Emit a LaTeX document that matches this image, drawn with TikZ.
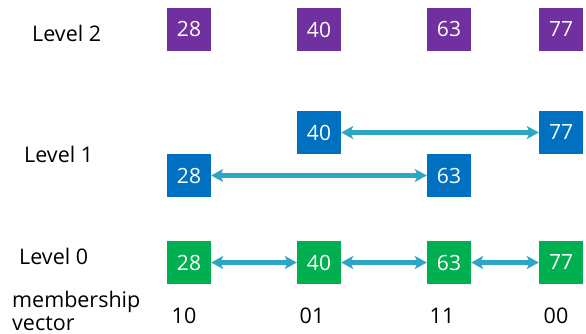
\documentclass[tikz,border=0pt]{standalone}
\usepackage{fontspec}
\setmainfont{Open Sans}
\usetikzlibrary{arrows.meta}
\definecolor{lvtwo}{HTML}{7030A0}
\definecolor{lvone}{HTML}{0070C0}
\definecolor{lvzero}{HTML}{00B050}
\definecolor{link}{HTML}{2EA5C4}
\begin{document}
\begin{tikzpicture}[x=1pt,y=-1pt,
  key/.style={minimum width=44pt,minimum height=43pt,inner sep=0pt,text=white,font=\fontsize{21}{24}\selectfont},
  ktwo/.style={key,fill=lvtwo},
  kone/.style={key,fill=lvone},
  kzero/.style={key,fill=lvzero},
  lbl/.style={font=\fontsize{21.5}{23}\selectfont,inner sep=0pt},
  lnk/.style={draw=link,line width=4.5pt,{Stealth[length=12pt,width=13pt,inset=3pt]}-{Stealth[length=12pt,width=13pt,inset=3pt]}}]
\useasboundingbox (0,0) rectangle (586,334);
% level 2
\node[ktwo] (a2) at (189,29.5) {28};
\node[ktwo] (b2) at (319,29.5) {40};
\node[ktwo] (c2) at (449,29.5) {63};
\node[ktwo] (d2) at (561,29.5) {77};
% level 1
\node[kone] (b1) at (319,132.5) {40};
\node[kone] (d1) at (561,132.5) {77};
\node[kone] (a1) at (189,175.5) {28};
\node[kone] (c1) at (449,175.5) {63};
% level 0
\node[kzero] (a0) at (189,262.5) {28};
\node[kzero] (b0) at (319,262.5) {40};
\node[kzero] (c0) at (449,262.5) {63};
\node[kzero] (d0) at (561,262.5) {77};
% links
\draw[lnk] (b1) -- (d1);
\draw[lnk] (a1) -- (c1);
\draw[lnk] (a0) -- (b0);
\draw[lnk] (b0) -- (c0);
\draw[lnk] (c0) -- (d0);
% labels
\node[lbl,anchor=base west] (l2) at (32,42) {Level 2};
\node[lbl,anchor=base west] (l1) at (24,162) {Level 1};
\node[lbl,anchor=base west] (l0) at (19,264) {Level 0};
\node[lbl,anchor=base west] (mv1) at (12,307) {membership};
\node[lbl,anchor=base west] (mv2) at (12,330) {vector};
\node[lbl,anchor=base] (va) at (184,323) {10};
\node[lbl,anchor=base] (vb) at (312,323) {01};
\node[lbl,anchor=base] (vc) at (442,323) {11};
\node[lbl,anchor=base] (vd) at (556,323) {00};
\end{tikzpicture}
\end{document}
